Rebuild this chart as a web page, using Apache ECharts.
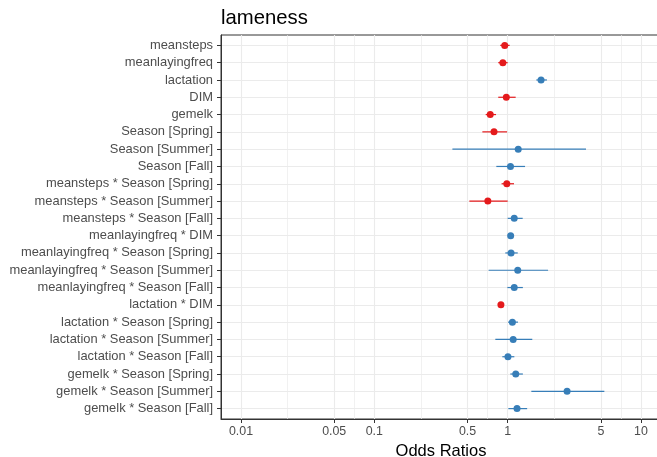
<!DOCTYPE html>
<html>
<head>
<meta charset="UTF-8">
<script src="https://cdn.jsdelivr.net/npm/echarts@6/dist/echarts.min.js"></script>
<style>
  html, body { margin: 0; padding: 0; background: #fff; }
  #chart { width: 657px; height: 457px; }
</style>
</head>
<body>
<div id="chart"></div>
<script>
// model terms, top to bottom
var terms = [
  'meansteps', 'meanlayingfreq', 'lactation', 'DIM', 'gemelk',
  'Season [Spring]', 'Season [Summer]', 'Season [Fall]',
  'meansteps * Season [Spring]', 'meansteps * Season [Summer]', 'meansteps * Season [Fall]',
  'meanlayingfreq * DIM', 'meanlayingfreq * Season [Spring]', 'meanlayingfreq * Season [Summer]',
  'meanlayingfreq * Season [Fall]', 'lactation * DIM', 'lactation * Season [Spring]',
  'lactation * Season [Summer]', 'lactation * Season [Fall]', 'gemelk * Season [Spring]',
  'gemelk * Season [Summer]', 'gemelk * Season [Fall]'
];
// odds ratios and 95% CI
var oddsRatio = [0.95, 0.92, 1.78, 0.977, 0.74, 0.79, 1.20, 1.05, 0.985, 0.71, 1.12,
                 1.053, 1.06, 1.19, 1.12, 0.89, 1.085, 1.10, 1.005, 1.15, 2.79, 1.175];
var ciLow  = [0.88, 0.85, 1.64, 0.85, 0.684, 0.646, 0.385, 0.822, 0.90, 0.516, 1.0,
              1.02, 0.96, 0.72, 0.995, 0.87, 1.007, 0.808, 0.912, 1.047, 1.505, 1.012];
var ciHigh = [1.035, 1.0, 1.97, 1.148, 0.818, 0.99, 3.87, 1.35, 1.116, 1.0, 1.296,
              1.09, 1.19, 2.01, 1.30, 0.91, 1.195, 1.53, 1.122, 1.30, 5.31, 1.40];
var tickValues = [0.01, 0.05, 0.1, 0.5, 1, 5, 10];
var tickLabels = ['0.01', '0.05', '0.1', '0.5', '1', '5', '10'];

var RED = '#e41a1c', BLUE = '#377eb8';
var log10 = function (v) { return Math.log(v) / Math.LN10; };

var majorX = tickValues.map(log10);
var minorX = [];
for (var i = 0; i < majorX.length - 1; i++) minorX.push((majorX[i] + majorX[i + 1]) / 2);
var rowPos = terms.map(function (t, i) { return i + 1; });

var points = [], bars = [];
for (var k = 0; k < terms.length; k++) {
  var col = oddsRatio[k] < 1 ? RED : BLUE;
  points.push({ value: [log10(oddsRatio[k]), k + 1], itemStyle: { color: col } });
  bars.push({ value: [k + 1, log10(ciLow[k]), log10(ciHigh[k])], itemStyle: { color: col } });
}

var chart = echarts.init(document.getElementById('chart'));
chart.setOption({
  animation: false,
  backgroundColor: '#fff',
  title: {
    text: 'lameness', left: 221, top: 8, padding: 0,
    textStyle: { fontFamily: 'Liberation Sans', fontSize: 20.3, fontWeight: 'normal', color: '#000' }
  },
  grid: {
    left: 221, top: 35, right: -4, bottom: 38,
    outerBoundsMode: 'none', containLabel: false,
    show: true, borderColor: '#333', borderWidth: 1, backgroundColor: '#fff'
  },
  xAxis: [{
    type: 'value', min: -2.15, max: 1.15,
    name: 'Odds Ratios', nameLocation: 'middle', nameGap: 22,
    nameTextStyle: { fontFamily: 'Liberation Sans', fontSize: 16.5, color: '#000' },
    axisLine: { show: true, onZero: false, lineStyle: { color: '#333', width: 1 } },
    axisTick: { show: true, length: 4, customValues: majorX, lineStyle: { color: '#333' } },
    axisLabel: {
      customValues: majorX, margin: 7,
      fontFamily: 'Liberation Sans', fontSize: 12.4, color: '#4d4d4d',
      formatter: function (v) {
        for (var j = 0; j < majorX.length; j++) if (Math.abs(majorX[j] - v) < 1e-6) return tickLabels[j];
        return '';
      }
    },
    splitLine: { show: true, lineStyle: { color: '#ebebeb', width: 1.1 } }
  }, {
    type: 'value', min: -2.15, max: 1.15, position: 'bottom',
    axisLine: { show: false },
    axisTick: { show: false, customValues: minorX },
    axisLabel: { show: false, customValues: minorX },
    splitLine: { show: true, lineStyle: { color: '#ebebeb', width: 0.7 } }
  }],
  yAxis: {
    type: 'value', inverse: true, min: 0.4, max: 22.6,
    axisLine: { show: true, onZero: false, lineStyle: { color: '#333', width: 1 } },
    axisTick: { show: true, length: 4, customValues: rowPos, lineStyle: { color: '#333' } },
    axisLabel: {
      customValues: rowPos, margin: 8,
      fontFamily: 'Liberation Sans', fontSize: 12.9, color: '#4d4d4d',
      formatter: function (v) { return terms[Math.round(v) - 1] || ''; }
    },
    splitLine: { show: true, lineStyle: { color: '#ebebeb', width: 1.1 } }
  },
  series: [{
    type: 'custom',
    xAxisIndex: 0,
    encode: { x: [1, 2], y: 0 },
    data: bars,
    renderItem: function (params, api) {
      var y = api.value(0);
      var p1 = api.coord([api.value(1), y]);
      var p2 = api.coord([api.value(2), y]);
      return {
        type: 'line',
        shape: { x1: p1[0], y1: p1[1], x2: p2[0], y2: p2[1] },
        style: { stroke: api.visual('color'), lineWidth: 1.2 }
      };
    }
  }, {
    type: 'scatter',
    xAxisIndex: 0,
    symbolSize: 7,
    itemStyle: { opacity: 1 },
    data: points,
    z: 3
  }]
});
</script>
</body>
</html>
